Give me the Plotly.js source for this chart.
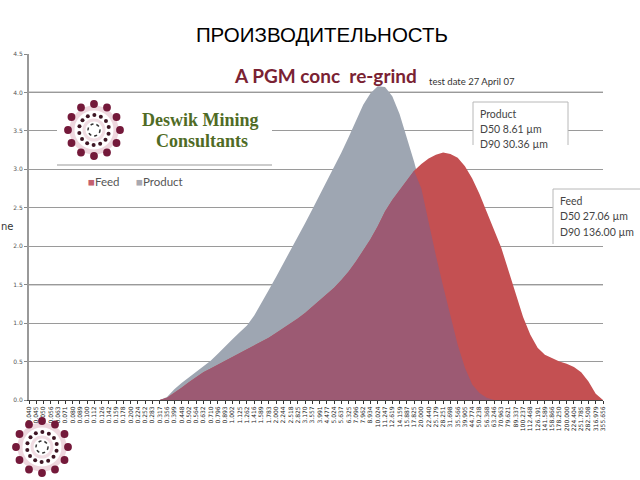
<!DOCTYPE html>
<html>
<head>
<meta charset="utf-8">
<script src="https://cdn.plot.ly/plotly-3.0.1.min.js"></script>
<style>html,body{margin:0;padding:0;background:#fff;}#chart{width:640px;height:480px;}</style>
</head>
<body>
<div id="chart"></div>
<script>
// Particle size classes (µm) – category labels
const sizeClasses = ["0.040","0.045","0.050","0.056","0.063","0.071","0.080","0.089","0.100","0.112",
"0.126","0.142","0.159","0.178","0.200","0.224","0.252","0.283","0.317","0.356",
"0.399","0.448","0.502","0.564","0.632","0.710","0.796","0.893","1.002","1.125",
"1.262","1.416","1.589","1.783","2.000","2.244","2.518","2.825","3.170","3.557",
"3.991","4.477","5.024","5.637","6.325","7.096","7.962","8.934","10.024","11.247",
"12.619","14.159","15.887","17.825","20.000","22.440","25.179","28.251","31.698","35.566",
"39.905","44.774","50.238","56.368","63.246","70.963","79.621","89.337","100.237","112.468",
"126.191","141.589","158.866","178.250","200.000","224.404","251.785","282.508","316.979","355.656"];

// Volume % – Feed
const feedValues = [0,0,0,0,0,0,0,0,0,0,
0,0,0,0,0,0,0,0,0,0.03,
0.09,0.16,0.23,0.30,0.36,0.41,0.46,0.50,0.55,0.60,
0.65,0.70,0.75,0.81,0.87,0.93,0.99,1.06,1.13,1.21,
1.29,1.37,1.46,1.56,1.67,1.80,1.94,2.09,2.26,2.45,
2.60,2.73,2.86,2.98,3.07,3.14,3.19,3.22,3.20,3.15,
3.04,2.88,2.68,2.44,2.20,1.98,1.68,1.38,1.08,0.85,
0.68,0.59,0.54,0.50,0.47,0.43,0.36,0.24,0.08,0];

// Volume % – Product
const productValues = [0,0,0,0,0,0,0,0,0,0,
0,0,0,0,0,0,0,0,0,0.04,
0.14,0.22,0.29,0.37,0.44,0.51,0.60,0.70,0.79,0.88,
0.97,1.10,1.26,1.43,1.60,1.77,1.94,2.12,2.30,2.48,
2.66,2.85,3.03,3.22,3.42,3.62,3.84,3.99,4.08,4.07,
3.95,3.72,3.42,3.10,2.75,2.30,1.88,1.48,1.08,0.72,
0.42,0.20,0.09,0.03,0,0,0,0,0,0,
0,0,0,0,0,0,0,0,0,0];

const yTicks = [0,0.5,1.0,1.5,2.0,2.5,3.0,3.5,4.0,4.5];

// overlap region (both series) drawn in its own mixed colour
const overlapValues = feedValues.map((f,i)=>Math.min(f, productValues[i]));

// plot area in pixels
const L=29, R=603, T=54, B=400, W=R-L, H=B-T;
const px = x => (x-L)/W;
const py = y => (B-y)/H;

const traces = [
  {x:sizeClasses, y:productValues, type:'scatter', mode:'lines', fill:'tozeroy',
   fillcolor:'rgb(158,166,178)', line:{width:0, color:'rgb(158,166,178)'}, name:'Product', showlegend:false, hoverinfo:'skip'},
  {x:sizeClasses, y:feedValues, type:'scatter', mode:'lines', fill:'tozeroy',
   fillcolor:'rgb(196,80,82)', line:{width:0, color:'rgb(196,80,82)'}, name:'Feed', showlegend:false, hoverinfo:'skip'},
  {x:sizeClasses, y:overlapValues, type:'scatter', mode:'lines', fill:'tozeroy',
   fillcolor:'rgb(156,90,115)', line:{width:0, color:'rgb(156,90,115)'}, name:'overlap', showlegend:false, hoverinfo:'skip'}
];

const shapes = [];
const annotations = [];

// darker grid lines
[4.0,1.5].forEach(v=>shapes.push({type:'line', xref:'paper', yref:'y', x0:0, x1:1, y0:v, y1:v, line:{color:'#555', width:1.3}, layer:'below'}));

// logo panel
shapes.push({type:'rect', xref:'paper', yref:'paper', x0:px(57), x1:px(272), y0:py(165), y1:py(94), fillcolor:'#fff', line:{width:0}, layer:'above'});
shapes.push({type:'line', xref:'paper', yref:'paper', x0:px(57), x1:px(272), y0:py(165), y1:py(165), line:{color:'#999', width:1}, layer:'above'});

// info boxes
function openBox(x0,y0,x1,y1){
  shapes.push({type:'rect', xref:'paper', yref:'paper', x0:px(x0), x1:px(x1), y0:py(y1), y1:py(y0), fillcolor:'#fff', line:{width:0}, layer:'above'});
  shapes.push({type:'path', xref:'paper', yref:'paper', layer:'above',
    path:`M ${px(x0)} ${py(y1)} L ${px(x0)} ${py(y0)} L ${px(x1)} ${py(y0)} L ${px(x1)} ${py(y1)}`,
    line:{color:'#b8b8b8', width:1}});
}
openBox(473,102,568,145);
openBox(553,189,646,244);

// decorative logo (dots)
function logo(cx,cy){
  const c = (x,y,r,fill,line) => shapes.push({type:'circle', xref:'paper', yref:'paper', xsizemode:'pixel', ysizemode:'pixel',
     xanchor:px(x), yanchor:py(y), x0:-r, x1:r, y0:-r, y1:r, fillcolor:fill||'rgba(0,0,0,0)', line:line||{width:0}, layer:'above'});
  c(cx,cy,22,null,{color:'rgba(205,140,160,0.35)', width:5});
  c(cx,cy,10,null,{color:'rgba(205,140,160,0.3)', width:3});
  for(let k=0;k<12;k++){const a=k*Math.PI/6+Math.PI/2; c(cx+26*Math.cos(a), cy-26*Math.sin(a), 3.9, '#74193a');}
  for(let k=0;k<14;k++){const a=k*2*Math.PI/14+0.2; c(cx+15*Math.cos(a), cy-15*Math.sin(a), 2.0, '#3e1624');}
  c(cx,cy,6,null,{color:'#333', width:1.5, dash:'dot'});
}
logo(94,130);
logo(42,447);

const ann = (x,y,text,size,color,family,extra) => annotations.push(Object.assign({xref:'paper', yref:'paper', x:px(x), y:py(y), text,
   showarrow:false, xanchor:'left', yanchor:'middle', font:{size, color, family}}, extra||{}));

ann(232,75,'<b>A PGM conc \u00a0re-grind</b>',19,'#7a2233','Lato, Liberation Sans, sans-serif');
ann(427,82,'test date 27 April 07',9.5,'#333','Lato, sans-serif');
ann(140,120,'<b>Deswik Mining</b>',18,'#4f6b25','Liberation Serif, serif');
ann(154,141,'<b>Consultants</b>',18,'#4f6b25','Liberation Serif, serif');
ann(86,181,'<span style="color:#c4606e">■</span>Feed',11.5,'#555','Lato, sans-serif');
ann(134,181,'<span style="color:#a8a8b0">■</span>Product',11.5,'#555','Lato, sans-serif');
ann(478,114,'Product',10.5,'#444','Lato, sans-serif');
ann(478,129,'D50 8.61 µm',10.5,'#444','Lato, sans-serif');
ann(478,144,'D90 30.36 µm',10.5,'#444','Lato, sans-serif');
ann(558,201,'Feed',10.5,'#444','Lato, sans-serif');
ann(558,216,'D50 27.06 µm',10.5,'#444','Lato, sans-serif');
ann(558,232,'D90 136.00 µm',10.5,'#444','Lato, sans-serif');
ann(-1,226,'ne',10,'#333','DejaVu Sans, sans-serif');

const layout = {
  width:640, height:480,
  margin:{l:L, r:640-R, t:T, b:480-B},
  paper_bgcolor:'#fff', plot_bgcolor:'#fff',
  showlegend:false,
  title:{text:'ПРОИЗВОДИТЕЛЬНОСТЬ', x:0.503, xref:'container', y:1-35/480, yref:'container', yanchor:'middle', xanchor:'center',
         font:{size:20.5, color:'#000', family:'Liberation Sans, Arial, sans-serif'}},
  xaxis:{type:'category', range:[0, sizeClasses.length-1], tickmode:'array', tickvals:sizeClasses, ticktext:sizeClasses,
         tickangle:-90, tickfont:{size:6, color:'#222', family:'DejaVu Sans, sans-serif'},
         ticks:'outside', ticklen:3, tickcolor:'#333', showline:true, linecolor:'#444', linewidth:1,
         showgrid:false, zeroline:false, fixedrange:true},
  yaxis:{range:[0,4.5], tickmode:'array', tickvals:yTicks, ticktext:yTicks.map(v=>v.toFixed(1)),
         tickfont:{size:6, color:'#555', family:'DejaVu Sans, sans-serif'}, ticks:'outside', ticklen:3, tickcolor:'#888',
         showline:true, linecolor:'#999', linewidth:2, showgrid:true, gridcolor:'#9a9a9a', gridwidth:1,
         zeroline:false, fixedrange:true},
  shapes, annotations
};

Plotly.newPlot('chart', traces, layout, {staticPlot:true, displayModeBar:false});
</script>
</body>
</html>
